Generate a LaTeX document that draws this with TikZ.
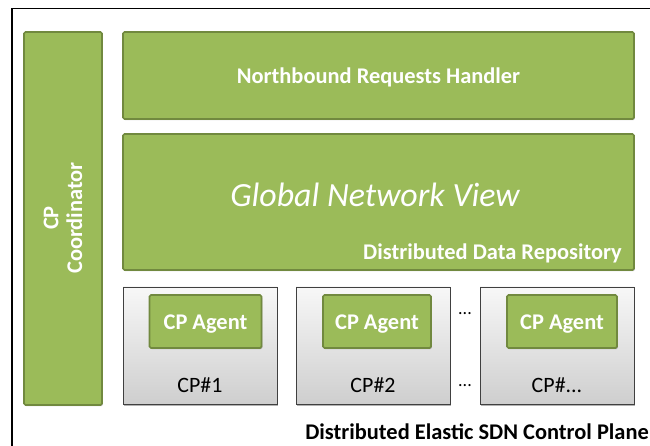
\documentclass[tikz,border=0pt]{standalone}
\usepackage{fontspec}
\setmainfont{Carlito}
\usetikzlibrary{shadows}
\definecolor{leaf}{HTML}{9BBB59}
\definecolor{leafedge}{HTML}{71893F}
\tikzset{
  greenbox/.style={rectangle, rounded corners=1.5bp, fill=leaf, draw=leafedge,
    line width=1.6bp, text=white, font=\bfseries\fontsize{22.5}{26}\selectfont,
    inner sep=0pt, text height=17bp, text depth=1bp,
    drop shadow={shadow xshift=0.8bp, shadow yshift=-1.2bp, opacity=0.25, fill=black}},
  cpbox/.style={rectangle, top color=gray!6, bottom color=gray!38, draw=black!75,
    line width=0.9bp, inner sep=0pt,
    drop shadow={shadow xshift=1bp, shadow yshift=-1.5bp, opacity=0.3, fill=black}},
  cplabel/.style={font=\fontsize{22}{26}\selectfont, inner sep=0pt},
  dots/.style={font=\fontsize{18}{20}\selectfont, inner sep=0pt},
}
\begin{document}
\begin{tikzpicture}[x=1bp,y=-1bp]
\useasboundingbox (0,0) rectangle (650,446);
% outer frame of the control plane
\draw[line width=1.8bp] (12,470) -- (12,8.5) -- (680,8.5);

% coordinator column
\node[greenbox, minimum width=78bp, minimum height=373bp] (coord) at (63,218.5) {};
\node[text=white, font=\bfseries\fontsize{22.5}{24}\selectfont, rotate=90, align=center, inner sep=0pt] (coordtxt) at (63,218) {CP\\Coordinator};

% northbound handler
\node[greenbox, minimum width=511bp, minimum height=87bp] (nb) at (378.5,75.5) {Northbound Requests Handler};

% global network view / data repository
\node[greenbox, minimum width=511bp, minimum height=136bp] (gnv) at (378.5,202) {};
\node[text=white, font=\itshape\fontsize{34}{38}\selectfont, inner sep=0pt] (gnvtxt) at (375,195) {Global Network View};
\node[text=white, font=\bfseries\fontsize{22.5}{26}\selectfont, inner sep=0pt, anchor=east] (ddr) at (622,253) {Distributed Data Repository};

% control plane instances
\node[cpbox, minimum width=154bp, minimum height=117bp] (cp1) at (200,345.5) {};
\node[cpbox, minimum width=154bp, minimum height=117bp] (cp2) at (373,345.5) {};
\node[cpbox, minimum width=154bp, minimum height=117bp] (cp3) at (557,345.5) {};

\node[greenbox, minimum width=112bp, minimum height=53bp] (ag1) at (205.5,321.5) {CP Agent};
\node[greenbox, minimum width=108bp, minimum height=53bp] (ag2) at (377,321.5) {CP Agent};
\node[greenbox, minimum width=110bp, minimum height=53bp] (ag3) at (562,321.5) {CP Agent};

\node[cplabel] (l1) at (200,385) {CP\#1};
\node[cplabel] (l2) at (373,385) {CP\#2};
\node[cplabel] (l3) at (557,385) {CP\#...};

\node[dots] (d1) at (465,314) {...};
\node[dots] (d2) at (465,386) {...};

% caption
\node[font=\bfseries\fontsize{22.5}{26}\selectfont, inner sep=0pt, anchor=east] (cap) at (649,432) {Distributed Elastic SDN Control Plane};
\end{tikzpicture}
\end{document}
